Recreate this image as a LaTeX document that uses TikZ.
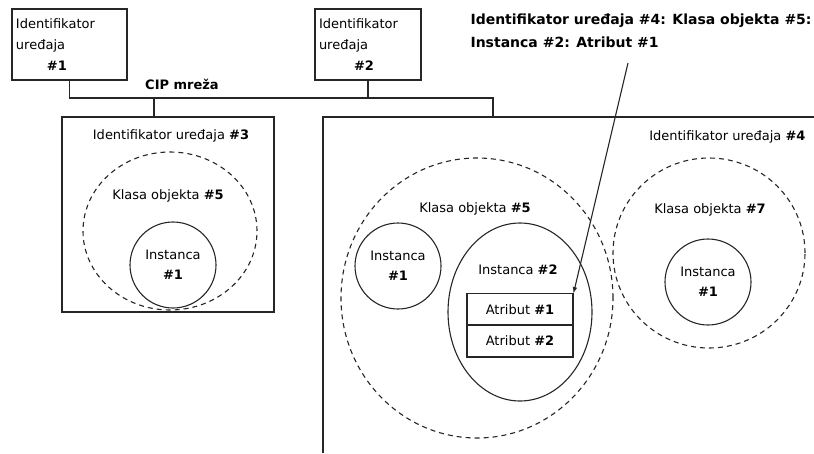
\documentclass[tikz,border=0pt]{standalone}
\usepackage{fontspec}
\setmainfont{DejaVu Sans}
\usetikzlibrary{shapes.geometric}

\newcommand{\hashnr}[1]{\textbf{\##1}}

\begin{document}
\begin{tikzpicture}[x=1pt,y=-1pt,line width=1.1pt,draw=black!85,
  txt/.style={font=\fontsize{13}{20}\selectfont,inner sep=0pt,align=center},
  devbox/.style={draw,rectangle,inner sep=4pt,align=left,font=\fontsize{13}{21}\selectfont},
  klasa/.style={draw,ellipse,inner sep=0pt,dash pattern=on 5pt off 4pt},
  inst/.style={draw,circle,minimum size=86pt,inner sep=0pt,align=center,font=\fontsize{13}{20}\selectfont},
  attr/.style={draw,rectangle,minimum width=106pt,minimum height=31.5pt,inner sep=0pt,font=\fontsize{13}{20}\selectfont}]
  \useasboundingbox (0,0) rectangle (814,453);

  % uredjaji na mrezi
  \node[devbox,minimum width=115pt,minimum height=71pt,text width=107pt] (dev1) at (69.5,44.5)
    {Identifikator\\uređaja\\\hspace*{31pt}\hashnr{1}\\[-5pt]};
  \node[devbox,minimum width=106pt,minimum height=71pt,text width=98pt] (dev2) at (368,44.5)
    {Identifikator\\uređaja\\\hspace*{35pt}\hashnr{2}\\[-5pt]};
  \node[font=\bfseries\fontsize{13}{16}\selectfont,inner sep=0pt] (cip) at (182,84) {CIP mreža};

  \coordinate (bus) at (493,98);
  \coordinate (dev4) at (493,117);
  \coordinate (tap3) at (154,117);
  \draw (dev1.south) |- (bus) -- (dev4);
  \draw (dev2.south) -- (dev2.south |- bus);
  \draw (tap3) -- (tap3 |- bus);

  % uredjaj #3
  \node[draw,rectangle,minimum width=212pt,minimum height=195pt] (dev3) at (168,214.5) {};
  \node[txt] (dev3lbl) at (171,136) {Identifikator uređaja \hashnr{3}};
  \node[klasa,minimum width=174pt,minimum height=158pt] (kl35) at (170,231) {};
  \node[txt] (kl35lbl) at (168,196) {Klasa objekta \hashnr{5}};
  \node[inst] (in351) at (173,265) {Instanca\\\hashnr{1}};

  % uredjaj #4
  \draw (323,453) |- (814,117);
  \node[txt,anchor=east] (dev4lbl) at (806,137) {Identifikator uređaja \hashnr{4}};

  \node[klasa,minimum width=272pt,minimum height=280pt] (kl45) at (477,298) {};
  \node[txt] (kl45lbl) at (475,209) {Klasa objekta \hashnr{5}};
  \node[inst] (in451) at (398,266) {Instanca\\\hashnr{1}};
  \node[draw,ellipse,minimum width=144pt,minimum height=178pt,inner sep=0pt] (in452) at (520,312) {};
  \node[txt] (in452lbl) at (518,270) {Instanca \hashnr{2}};
  \node[attr] (attr1) at (520,309.5) {Atribut \hashnr{1}};
  \node[attr,minimum height=32pt] (attr2) at (520,341) {Atribut \hashnr{2}};

  \node[klasa,minimum width=192pt,minimum height=190pt] (kl47) at (709,253) {};
  \node[txt] (kl47lbl) at (710,210) {Klasa objekta \hashnr{7}};
  \node[inst] (in471) at (708,282) {Instanca\\\hashnr{1}};

  % putanja do atributa
  \node[anchor=north west,inner sep=0pt,align=left,font=\bfseries\fontsize{14}{23}\selectfont] (path)
    at (470,13) {Identifikator uređaja \#4: Klasa objekta \#5:\\Instanca \#2: Atribut \#1};
  \coordinate (callout) at (628,63);
  \draw[-latex] (callout) -- (attr1.north east);
\end{tikzpicture}
\end{document}
